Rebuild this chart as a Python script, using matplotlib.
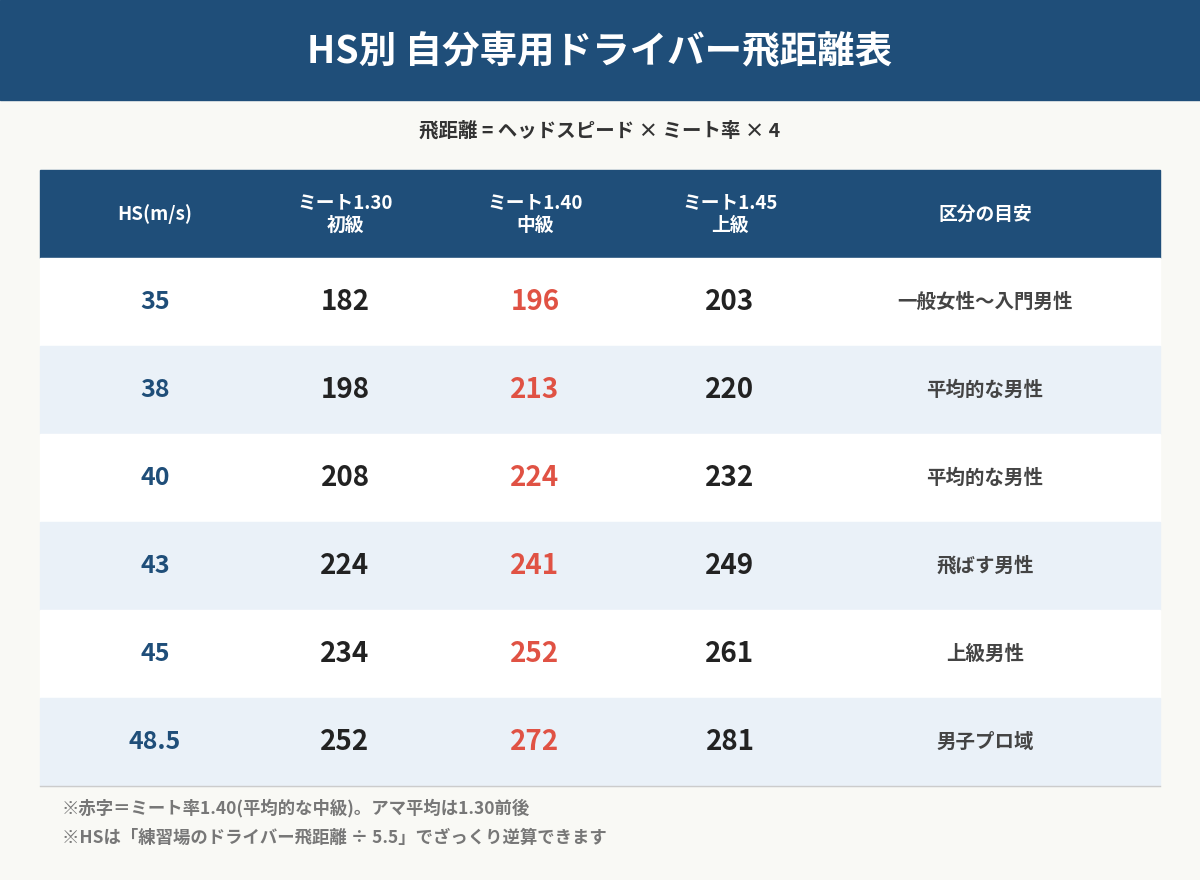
import matplotlib
matplotlib.use("Agg")
import matplotlib.pyplot as plt
from matplotlib.patches import Rectangle

plt.rcParams['font.family'] = ['Noto Sans CJK JP', 'DejaVu Sans']

title = "HS別 自分専用ドライバー飛距離表"
subtitle = "飛距離 = ヘッドスピード × ミート率 × 4"
headers = ["HS(m/s)", "ミート1.30\n初級", "ミート1.40\n中級", "ミート1.45\n上級", "区分の目安"]
hs = ["35", "38", "40", "43", "45", "48.5"]
meet130 = [182, 198, 208, 224, 234, 252]
meet140 = [196, 213, 224, 241, 252, 272]
meet145 = [203, 220, 232, 249, 261, 281]
category = ["一般女性〜入門男性", "平均的な男性", "平均的な男性", "飛ばす男性", "上級男性", "男子プロ域"]
notes = ["※赤字＝ミート率1.40(平均的な中級)。アマ平均は1.30前後",
         "※HSは「練習場のドライバー飛距離 ÷ 5.5」でざっくり逆算できます"]

NAVY = "#1f4e79"
fig = plt.figure(figsize=(12, 8.8), dpi=100)
fig.patch.set_facecolor("#f9f9f5")
ax = fig.add_axes([0, 0, 1, 1])
ax.set_xlim(0, 1200); ax.set_ylim(880, 0); ax.axis("off")

ax.add_patch(Rectangle((0, 0), 1200, 100, color=NAVY))
ax.text(600, 52, title, color="white", fontsize=27, fontweight="bold", ha="center", va="center")
ax.text(600, 131, subtitle, color="#333333", fontsize=14, fontweight="bold", ha="center", va="center")

xs = [155, 345, 535, 730, 985]
ax.add_patch(Rectangle((40, 170), 1120, 88, color=NAVY))
for x, h in zip(xs, headers):
    ax.text(x, 214, h, color="white", fontsize=13.5, fontweight="bold", ha="center", va="center", linespacing=1.2)

rh = 88
for i in range(len(hs)):
    y0 = 258 + i * rh
    ax.add_patch(Rectangle((40, y0), 1120, rh, color="white" if i % 2 == 0 else "#eaf1f8"))
    yc = y0 + rh / 2
    ax.text(xs[0], yc, hs[i], color=NAVY, fontsize=18, fontweight="bold", ha="center", va="center")
    ax.text(xs[1], yc, str(meet130[i]), color="#222222", fontsize=20, fontweight="bold", ha="center", va="center")
    ax.text(xs[2], yc, str(meet140[i]), color="#e05244", fontsize=20, fontweight="bold", ha="center", va="center")
    ax.text(xs[3], yc, str(meet145[i]), color="#222222", fontsize=20, fontweight="bold", ha="center", va="center")
    ax.text(xs[4], yc, category[i], color="#444444", fontsize=14, fontweight="bold", ha="center", va="center")
ax.plot([40, 1160], [786, 786], color="#cccccc", lw=1)

for j, n in enumerate(notes):
    ax.text(62, 808 + 30 * j, n, color="#777777", fontsize=12.5, fontweight="bold", ha="left", va="center")

fig.savefig("out.png", dpi=100, facecolor=fig.get_facecolor())
